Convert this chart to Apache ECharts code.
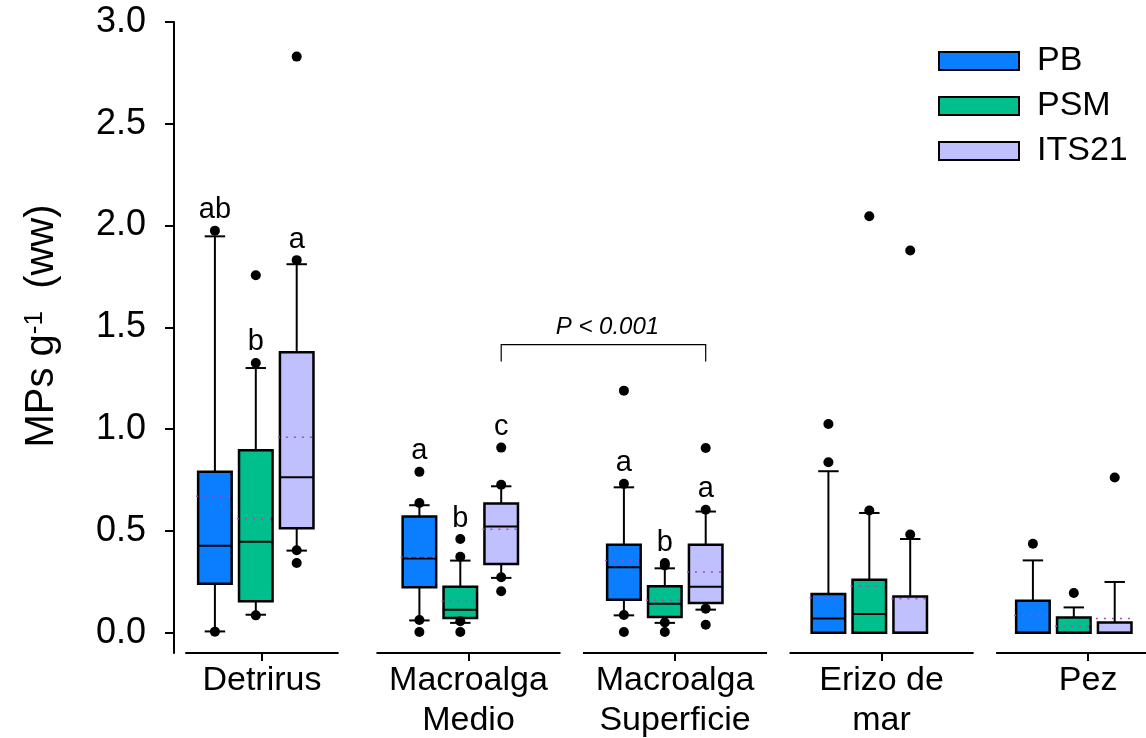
<!DOCTYPE html>
<html>
<head>
<meta charset="utf-8">
<title>MPs g-1 (ww)</title>
<script src="https://cdn.jsdelivr.net/npm/echarts@6/dist/echarts.min.js"></script>
<style>
	html, body { margin: 0; padding: 0; background: #fff; }
	#charts { width: 1146px; height: 738px; }
</style>
</head>
<body>
<div id="charts"></div>
<script>
var categories = ['Detrirus', 'Macroalga\nMedio', 'Macroalga\nSuperficie', 'Erizo de\nmar', 'Pez'];
var seriesNames = ['PB', 'PSM', 'ITS21'];
var yTicks = [0, 0.5, 1.0, 1.5, 2.0, 2.5, 3.0];

// [10th pct, Q1, median, Q3, 90th pct] per category
var pbBoxes = [
    [0.006, 0.24, 0.427, 0.79, 1.947],
    [0.06, 0.223, 0.364, 0.571, 0.626],
    [0.085, 0.162, 0.321, 0.432, 0.714],
    [0, 0, 0.069, 0.19, 0.793],
    [0, 0, 0, 0.157, 0.355]
];
var psmBoxes = [
    [0.088, 0.154, 0.446, 0.896, 1.30],
    [0.048, 0.072, 0.113, 0.226, 0.354],
    [0.048, 0.077, 0.142, 0.228, 0.316],
    [0, 0, 0.092, 0.26, 0.588],
    [0, 0, 0, 0.075, 0.124]
];
var itsBoxes = [
    [0.403, 0.513, 0.763, 1.377, 1.81],
    [0.269, 0.337, 0.522, 0.635, 0.719],
    [0.113, 0.146, 0.225, 0.432, 0.595],
    [0, 0, 0, 0.178, 0.46],
    [0, 0, 0, 0.05, 0.249]
];
var pbMeans = [0.67, 0.37, 0.355, 0.17, 0.084];
var psmMeans = [0.559, 0.154, 0.159, 0.228, 0.031];
var itsMeans = [0.96, 0.508, 0.298, 0.167, 0.069];

// [category index, value]
var pbOutliers = [[0, 1.975], [0, 0.005], [1, 0.637], [1, 0.79], [1, 0.062], [1, 0.003],
    [2, 0.731], [2, 1.189], [2, 0.087], [2, 0.003], [3, 0.837], [3, 1.025], [4, 0.437]];
var psmOutliers = [[0, 1.325], [0, 1.756], [0, 0.085], [1, 0.373], [1, 0.46], [1, 0.056], [1, 0.003],
    [2, 0.342], [2, 0.33], [2, 0.05], [2, 0.003], [3, 0.6], [3, 2.046], [4, 0.195]];
var itsOutliers = [[0, 1.83], [0, 2.83], [0, 0.405], [0, 0.342], [1, 0.727], [1, 0.909], [1, 0.272], [1, 0.203],
    [2, 0.604], [2, 0.907], [2, 0.118], [2, 0.039], [3, 0.482], [3, 1.877], [4, 0.762]];

// significance letters: [category index, value of the point it sits above, letter]
var pbLetters = [[0, 1.975, 'ab'], [1, 0.79, 'a'], [2, 0.731, 'a']];
var psmLetters = [[0, 1.325, 'b'], [1, 0.46, 'b'], [2, 0.342, 'b']];
var itsLetters = [[0, 1.83, 'a'], [1, 0.909, 'c'], [2, 0.604, 'a']];

// ITS21 Macroalga Medio vs Macroalga Superficie
var bracketCats = [1, 2];
var bracketTop = 1.415;
var bracketEnd = 1.332;
var bracketText = 'P < 0.001';

var FONT = 'Arial, "Liberation Sans", sans-serif';
var colors = ['#0a7eff', '#00bf8c', '#c0c0ff'];
var shifts = [-0.2, 0, 0.2];
var Y_MIN = -0.1;

function labelPos(i) {
    return 0.03 + 1.01 * i;
}

function boxSeries(name, boxes, means, color, shift) {
    return {
        name: name,
        type: 'custom',
        itemStyle: { color: color },
        encode: { x: 0, y: [1, 2, 3, 4, 5, 6] },
        data: boxes.map(function (b, i) { return [i].concat(b, [means[i]]); }),
        renderItem: function (params, api) {
            var x = api.value(0) + shift;
            var half = api.size([0.164, 0])[0] / 2;
            var capHalf = api.size([0.1, 0])[0] / 2;
            var cx = api.coord([x, 0])[0];
            var y = function (k) { return api.coord([x, api.value(k)])[1]; };
            var yLow = y(1), yQ1 = y(2), yMed = y(3), yQ3 = y(4), yHigh = y(5), yMean = y(6);
            var pen = { stroke: '#000', lineWidth: 2 };
            var kids = [];
            if (yLow - yQ1 > 0.5) {
                kids.push({ type: 'line', shape: { x1: cx, y1: yQ1, x2: cx, y2: yLow }, style: pen });
                kids.push({ type: 'line', shape: { x1: cx - capHalf, y1: yLow, x2: cx + capHalf, y2: yLow }, style: pen });
            }
            if (yQ3 - yHigh > 0.5) {
                kids.push({ type: 'line', shape: { x1: cx, y1: yQ3, x2: cx, y2: yHigh }, style: pen });
                kids.push({ type: 'line', shape: { x1: cx - capHalf, y1: yHigh, x2: cx + capHalf, y2: yHigh }, style: pen });
            }
            kids.push({
                type: 'rect',
                shape: { x: cx - half, y: yQ3, width: half * 2, height: yQ1 - yQ3 },
                style: { fill: color, stroke: '#000', lineWidth: 2.5 }
            });
            kids.push({ type: 'line', shape: { x1: cx - half, y1: yMed, x2: cx + half, y2: yMed }, style: pen });
            kids.push({
                type: 'line',
                shape: { x1: cx - half - 2, y1: yMean, x2: cx + half + 2, y2: yMean },
                style: { stroke: '#a24bc4', lineWidth: 1.5, lineDash: [2, 6] }
            });
            return { type: 'group', children: kids };
        }
    };
}

function outlierSeries(name, points, shift) {
    return {
        name: name + ' outliers',
        type: 'scatter',
        symbol: 'circle',
        symbolSize: 10,
        itemStyle: { color: '#000', opacity: 1 },
        z: 3,
        data: points.map(function (p) { return [p[0] + shift, p[1]]; })
    };
}

function letterSeries(letters, shift) {
    return {
        type: 'custom',
        silent: true,
        encode: { x: 0, y: 1 },
        data: letters.map(function (l) { return [l[0], l[1]]; }),
        renderItem: function (params, api) {
            var pt = api.coord([api.value(0) + shift, api.value(1)]);
            return {
                type: 'text',
                style: {
                    text: letters[params.dataIndex][2],
                    x: pt[0], y: pt[1] - 6,
                    align: 'center', verticalAlign: 'bottom',
                    font: '29px ' + FONT, fill: '#000'
                }
            };
        }
    };
}

var series = [
    boxSeries('PB', pbBoxes, pbMeans, colors[0], shifts[0]),
    boxSeries('PSM', psmBoxes, psmMeans, colors[1], shifts[1]),
    boxSeries('ITS21', itsBoxes, itsMeans, colors[2], shifts[2]),
    outlierSeries('PB', pbOutliers, shifts[0]),
    outlierSeries('PSM', psmOutliers, shifts[1]),
    outlierSeries('ITS21', itsOutliers, shifts[2]),
    letterSeries(pbLetters, shifts[0]),
    letterSeries(psmLetters, shifts[1]),
    letterSeries(itsLetters, shifts[2])
];

// broken x axis: one short line under each category
series.push({
    type: 'custom',
    silent: true,
    encode: { x: 0 },
    data: categories.map(function (c, i) { return [i]; }),
    renderItem: function (params, api) {
        var i = api.value(0);
        var half = i === 0 ? 0.375 : 0.45;
        var a = api.coord([labelPos(i) - half, Y_MIN]);
        var b = api.coord([labelPos(i) + half, Y_MIN]);
        return {
            type: 'line',
            shape: { x1: a[0], y1: a[1], x2: b[0], y2: b[1] },
            style: { stroke: '#000', lineWidth: 2 }
        };
    }
});

// P value bracket
series.push({
    type: 'custom',
    silent: true,
    encode: { x: 0, y: 1 },
    data: [[bracketCats[0], bracketTop]],
    renderItem: function (params, api) {
        var a = api.coord([bracketCats[0] + shifts[2], bracketEnd]);
        var b = api.coord([bracketCats[0] + shifts[2], bracketTop]);
        var c = api.coord([bracketCats[1] + shifts[2], bracketTop]);
        var d = api.coord([bracketCats[1] + shifts[2], bracketEnd]);
        return {
            type: 'group',
            children: [{
                type: 'polyline',
                shape: { points: [a, b, c, d] },
                style: { stroke: '#000', lineWidth: 1.2, fill: null }
            }, {
                type: 'text',
                style: {
                    text: bracketText,
                    x: (b[0] + c[0]) / 2 + 4, y: b[1] - 5,
                    align: 'center', verticalAlign: 'bottom',
                    font: 'italic 24px ' + FONT, fill: '#000'
                }
            }]
        };
    }
});

var chart = echarts.init(document.getElementById('charts'));
chart.setOption({
    backgroundColor: '#fff',
    animation: false,
    grid: { left: 174, right: 0, top: 22, bottom: 85, containLabel: false, outerBoundsMode: 'none' },
    legend: {
        data: seriesNames,
        orient: 'vertical',
        left: 938,
        top: 44,
        padding: 0,
        icon: 'rect',
        itemWidth: 80,
        itemHeight: 18,
        itemGap: 11,
        selectedMode: false,
        itemStyle: { borderColor: '#000', borderWidth: 2 },
        textStyle: { fontSize: 34, lineHeight: 30, color: '#000', fontFamily: FONT, padding: [0, 0, 0, 13] }
    },
    xAxis: {
        type: 'value',
        min: -0.4,
        max: 4.353,
        splitLine: { show: false },
        axisLine: { show: false, onZero: false },
        axisTick: {
            show: true,
            customValues: categories.map(function (c, i) { return labelPos(i); }),
            length: 8,
            lineStyle: { color: '#000', width: 2 }
        },
        axisLabel: {
            customValues: categories.map(function (c, i) { return labelPos(i); }),
            formatter: function (v) { return categories[Math.round((v - 0.03) / 1.01)]; },
            margin: 8,
            fontSize: 34,
            lineHeight: 40,
            color: '#000',
            fontFamily: FONT
        }
    },
    yAxis: {
        type: 'value',
        min: Y_MIN,
        max: 3,
        name: 'MPs g{sup|-1}  (ww)',
        nameLocation: 'middle',
        nameRotate: 90,
        nameGap: 112,
        nameTextStyle: {
            fontSize: 40,
            color: '#000',
            fontFamily: FONT,
            padding: [0, 0, 0, 23],
            rich: { sup: { fontSize: 26, verticalAlign: 'top', lineHeight: 24, color: '#000', fontFamily: FONT } }
        },
        splitLine: { show: false },
        axisLine: { show: true, onZero: false, lineStyle: { color: '#000', width: 2 } },
        axisTick: { show: true, customValues: yTicks, length: 9, lineStyle: { color: '#000', width: 2 } },
        axisLabel: {
            customValues: yTicks,
            formatter: function (v) { return v.toFixed(1); },
            margin: 28,
            fontSize: 36,
            color: '#000',
            fontFamily: FONT
        }
    },
    series: series
});
</script>
</body>
</html>
